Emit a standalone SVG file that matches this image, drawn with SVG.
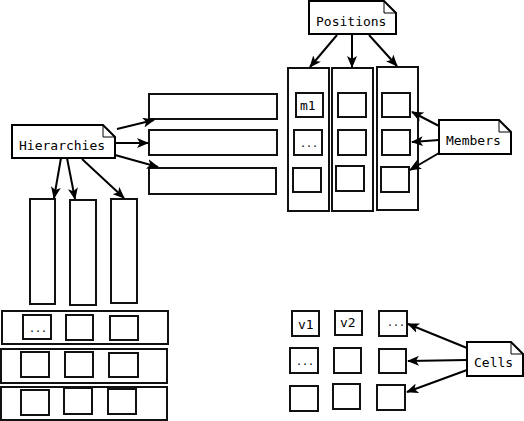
<svg xmlns="http://www.w3.org/2000/svg" width="524" height="421" viewBox="0 0 524 421">
<defs>
<marker id="ah" viewBox="0 0 12 10" refX="11" refY="5" markerWidth="12" markerHeight="10" markerUnits="userSpaceOnUse" orient="auto">
<path d="M0,0 L12,5 L0,10 L3,5 Z" fill="#000"/>
</marker>
<style>
.b{fill:#fff;stroke:#111;stroke-width:2}
.n{fill:#fff;stroke:#000;stroke-width:2}
.f{fill:none;stroke:#000;stroke-width:1}
.c{stroke:#000;stroke-width:2;fill:none;marker-end:url(#ah)}
.t{font-family:"DejaVu Sans Mono",monospace;font-size:13px;fill:#000}
.s{font-family:"DejaVu Sans Mono",monospace;font-size:10px;fill:#000}
</style>
</defs>
<rect width="524" height="421" fill="#fff"/>
<g id="hbars">
<rect class="b" x="149" y="94" width="128" height="25"/>
<rect class="b" x="149" y="130" width="128" height="25"/>
<rect class="b" x="149" y="168" width="127" height="26"/>
</g>
<g id="vbars">
<rect class="b" x="30" y="199" width="25" height="105"/>
<rect class="b" x="70" y="200" width="26" height="105"/>
<rect class="b" x="111" y="199" width="26" height="104"/>
</g>
<g id="poscols">
<rect class="b" x="288" y="68" width="41" height="143"/>
<rect class="b" x="332" y="68" width="41" height="143"/>
<rect class="b" x="377" y="67" width="41" height="143"/>
<rect class="b" x="296" y="93" width="27" height="24"/>
<text class="t" x="300" y="110">m1</text>
<rect class="b" x="294" y="130" width="28" height="25"/>
<text class="s" x="300" y="147">...</text>
<rect class="b" x="293" y="168" width="28" height="24"/>
<rect class="b" x="338" y="93" width="28" height="24"/>
<rect class="b" x="338" y="130" width="28" height="25"/>
<rect class="b" x="336" y="166" width="28" height="25"/>
<rect class="b" x="382" y="93" width="28" height="24"/>
<rect class="b" x="382" y="130" width="28" height="25"/>
<rect class="b" x="381" y="167" width="28" height="25"/>
</g>
<g id="rows">
<rect class="b" x="2" y="311" width="166" height="33"/>
<rect class="b" x="1" y="349" width="166" height="34"/>
<rect class="b" x="1" y="387" width="166" height="33"/>
<rect class="b" x="23" y="315" width="28" height="24"/>
<text class="s" x="29" y="332">...</text>
<rect class="b" x="66" y="315" width="27" height="25"/>
<rect class="b" x="110" y="316" width="28" height="24"/>
<rect class="b" x="21" y="352" width="28" height="25"/>
<rect class="b" x="65" y="352" width="28" height="25"/>
<rect class="b" x="109" y="353" width="29" height="24"/>
<rect class="b" x="21" y="390" width="28" height="25"/>
<rect class="b" x="64" y="388" width="28" height="26"/>
<rect class="b" x="108" y="389" width="28" height="25"/>
</g>
<g id="cellgrid">
<rect class="b" x="292" y="311" width="27" height="25"/>
<text class="t" x="298" y="329">v1</text>
<rect class="b" x="335" y="311" width="27" height="24"/>
<text class="t" x="340" y="327">v2</text>
<rect class="b" x="379" y="311" width="28" height="25"/>
<text class="s" x="387" y="326">...</text>
<rect class="b" x="290" y="348" width="28" height="25"/>
<text class="s" x="296" y="365">...</text>
<rect class="b" x="334" y="348" width="27" height="25"/>
<rect class="b" x="379" y="349" width="27" height="24"/>
<rect class="b" x="290" y="386" width="28" height="25"/>
<rect class="b" x="333" y="384" width="27" height="25"/>
<rect class="b" x="377" y="385" width="28" height="25"/>
</g>
<g id="connectors">
<line class="c" x1="117" y1="129" x2="154" y2="120"/>
<line class="c" x1="115" y1="143" x2="148" y2="143"/>
<line class="c" x1="115" y1="155" x2="158" y2="167"/>
<line class="c" x1="61" y1="158" x2="54" y2="198"/>
<line class="c" x1="67" y1="158" x2="75" y2="199"/>
<line class="c" x1="82" y1="159" x2="124" y2="198"/>
<line class="c" x1="337" y1="35" x2="310" y2="67"/>
<line class="c" x1="352" y1="35" x2="352" y2="67"/>
<line class="c" x1="369" y1="35" x2="397" y2="66"/>
<line class="c" x1="439" y1="126" x2="412" y2="112"/>
<line class="c" x1="439" y1="140" x2="412" y2="142"/>
<line class="c" x1="439" y1="153" x2="410" y2="170"/>
<line class="c" x1="467" y1="348" x2="408" y2="324"/>
<line class="c" x1="467" y1="360" x2="408" y2="361"/>
<line class="c" x1="467" y1="370" x2="407" y2="392"/>
</g>
<g id="hierarchies">
<path class="n" d="M12,125 H103 L115,137 V158 H12 Z"/>
<path class="f" d="M103,125 V137 H115"/>
<text class="t" x="19" y="150">Hierarchies</text>
</g>
<g id="positions">
<path class="n" d="M309,1 H384 L396,13 V34 H309 Z"/>
<path class="f" d="M384,1 V13 H396"/>
<text class="t" x="316" y="26">Positions</text>
</g>
<g id="members">
<path class="n" d="M439,120 H499 L511,132 V154 H439 Z"/>
<path class="f" d="M499,120 V132 H511"/>
<text class="t" x="446" y="145">Members</text>
</g>
<g id="cells">
<path class="n" d="M467,342 H511 L523,354 V376 H467 Z"/>
<path class="f" d="M511,342 V354 H523"/>
<text class="t" x="474" y="367">Cells</text>
</g>
</svg>
